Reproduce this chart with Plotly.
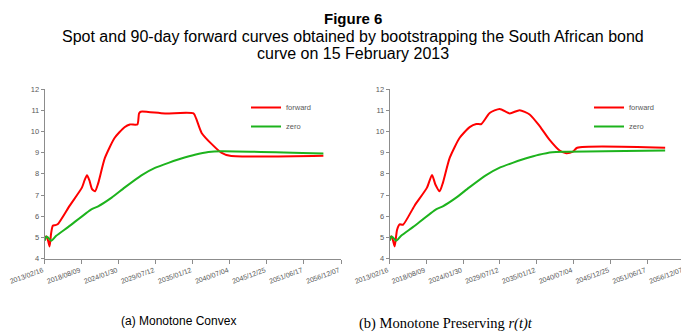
import numpy as np
import pandas as pd
import plotly.graph_objects as go

START = pd.Timestamp("2013-02-16")

tick_labels = ["2013/02/16", "2018/08/09", "2024/01/30", "2029/07/12", "2035/01/12",
               "2040/07/04", "2045/12/25", "2051/06/17", "2056/12/07"]

# Panel (a) Monotone Convex
a_fwd_years = [0.00, 0.25, 0.50, 0.72, 0.95, 1.20, 1.60, 2.00, 3.70, 5.50, 5.90, 6.25, 6.60,
               7.00, 7.45, 7.90, 8.90, 10.35, 11.80, 12.60, 13.70, 13.95, 14.20, 15.30, 17.80,
               22.00, 22.40, 23.20, 24.70, 26.10, 27.40, 41.20]
a_fwd_rate = [5.00, 5.05, 4.85, 4.58, 5.20, 5.55, 5.58, 5.65, 6.50, 7.35, 7.70, 7.93, 7.70,
              7.28, 7.18, 7.55, 8.75, 9.70, 10.20, 10.33, 10.33, 10.85, 10.93, 10.92, 10.85,
              10.85, 10.60, 9.93, 9.40, 9.00, 8.85, 8.85]
a_zero_years = [0.00, 0.24, 0.50, 0.95, 1.70, 3.50, 6.90, 7.90, 9.90, 11.80, 14.30, 16.30,
                18.30, 20.20, 22.20, 24.20, 26.10, 41.20]
a_zero_rate = [4.85, 5.05, 5.00, 4.85, 5.08, 5.50, 6.33, 6.47, 6.88, 7.35, 7.93, 8.28,
               8.52, 8.72, 8.90, 9.03, 9.07, 8.96]

# Panel (b) Monotone Preserving r(t)t
b_fwd_years = [0.00, 0.25, 0.50, 0.74, 1.09, 1.48, 1.98, 3.70, 5.55, 6.30, 6.80, 7.44, 7.94,
               8.93, 10.42, 11.90, 12.89, 13.64, 14.88, 16.37, 17.86, 19.34, 20.83, 22.32,
               23.80, 25.29, 26.28, 27.27, 27.91, 41.00]
b_fwd_rate = [5.00, 5.05, 4.85, 4.58, 5.35, 5.62, 5.60, 6.50, 7.35, 7.95, 7.50, 7.18, 7.60,
              8.75, 9.70, 10.20, 10.35, 10.35, 10.87, 11.06, 10.85, 11.00, 10.80, 10.25,
              9.60, 9.10, 8.97, 9.05, 9.23, 9.23]
b_zero_years = [0.00, 0.24, 0.50, 0.95, 1.70, 3.50, 6.90, 7.90, 9.90, 11.80, 14.30, 16.30,
                18.30, 20.20, 22.20, 24.20, 26.30, 32.00, 41.00]
b_zero_rate = [4.85, 5.05, 5.00, 4.85, 5.08, 5.50, 6.33, 6.47, 6.88, 7.35, 7.93, 8.28,
               8.52, 8.72, 8.90, 9.02, 9.04, 9.07, 9.10]


def to_dates(years):
    return START + pd.to_timedelta(np.array(years) * 365.25, unit="D")


RED = "#FF0000"
GREEN = "#1DB31D"
GRAY = "#595959"
AX = "#8C8C8C"
FONT = "Liberation Sans, Arial, sans-serif"

fig = go.Figure()
fig.add_trace(go.Scatter(x=to_dates(a_fwd_years), y=a_fwd_rate, name="forward", mode="lines",
                         line=dict(color=RED, width=2, shape="spline", smoothing=0.6),
                         xaxis="x", yaxis="y", legend="legend"))
fig.add_trace(go.Scatter(x=to_dates(a_zero_years), y=a_zero_rate, name="zero", mode="lines",
                         line=dict(color=GREEN, width=2, shape="spline", smoothing=0.6),
                         xaxis="x", yaxis="y", legend="legend"))
fig.add_trace(go.Scatter(x=to_dates(b_fwd_years), y=b_fwd_rate, name="forward", mode="lines",
                         line=dict(color=RED, width=2, shape="spline", smoothing=0.6),
                         xaxis="x2", yaxis="y2", legend="legend2"))
fig.add_trace(go.Scatter(x=to_dates(b_zero_years), y=b_zero_rate, name="zero", mode="lines",
                         line=dict(color=GREEN, width=2, shape="spline", smoothing=0.6),
                         xaxis="x2", yaxis="y2", legend="legend2"))

tickvals = pd.to_datetime(tick_labels, format="%Y/%m/%d")
xcommon = dict(type="date", range=[tickvals[0], tickvals[-1]], tickvals=tickvals,
               ticktext=tick_labels, tickangle=-20, showgrid=False, zeroline=False,
               showline=True, linecolor=AX, linewidth=1, ticks="outside", ticklen=4,
               tickcolor=AX, tickfont=dict(family=FONT, size=7, color=GRAY), automargin=False,
               ticklabelshift=-2, ticklabeloverflow="allow")
ycommon = dict(range=[4, 12], dtick=1, showgrid=False, zeroline=False, showline=True,
               linecolor=AX, linewidth=1, ticks="outside", ticklen=3, tickcolor=AX,
               tickfont=dict(family=FONT, size=7.5, color=GRAY), automargin=False)

W, H = 689, 332
ydom = [1 - 250.7 / H, 1 - 81 / H]

legcommon = dict(font=dict(family=FONT, size=7.5, color=GRAY), bgcolor="rgba(0,0,0,0)",
                 xanchor="left", yanchor="top", tracegroupgap=0, itemwidth=30)


def ann(text, x, y, size, family=FONT):
    return dict(text=text, x=x / W, y=1 - y / H, xref="paper", yref="paper",
                xanchor="center", yanchor="middle", showarrow=False,
                font=dict(family=family, size=size, color="black"))


fig.update_layout(
    width=W, height=H,
    margin=dict(l=0, r=0, t=0, b=0),
    paper_bgcolor="white", plot_bgcolor="white",
    xaxis=dict(domain=[36.7 / W, 333 / W], anchor="y", **xcommon),
    yaxis=dict(domain=ydom, anchor="x", **ycommon),
    xaxis2=dict(domain=[381.7 / W, 676 / W], anchor="y2", **xcommon),
    yaxis2=dict(domain=ydom, anchor="x2", **ycommon),
    legend=dict(x=238 / W, y=1 - 85 / H, **legcommon),
    legend2=dict(x=581 / W, y=1 - 85 / H, **legcommon),
    annotations=[
        ann("<b>Figure 6</b>", 344.5, 10, 15),
        ann("Spot and 90-day forward curves obtained by bootstrapping the South African bond",
            344.5, 28.5, 16),
        ann("curve on 15 February 2013", 344.5, 45, 16),
        ann("(a) Monotone Convex", 170.9, 313, 12),
        ann("(b) Monotone Preserving <i>r(t)t</i>", 438.3, 315.5, 14.5,
            "Liberation Serif, Times New Roman, serif"),
    ],
)

fig.write_html("out.html")
